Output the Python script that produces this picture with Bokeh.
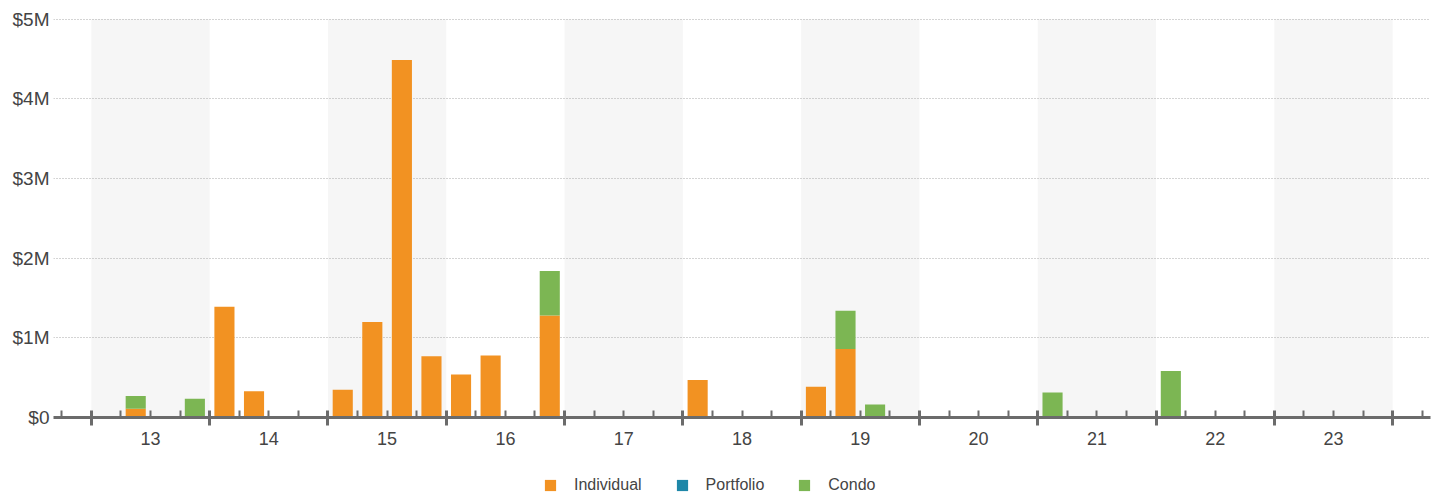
from bokeh.plotting import figure
from bokeh.layouts import column
from bokeh.models import (FixedTicker, LinearAxis, Legend, LegendItem, Range1d,
                          ColumnDataSource, CustomJSTickFormatter)
from bokeh.embed import file_html
from bokeh.resources import INLINE

# ---- data ----
years = [13, 14, 15, 16, 17, 18, 19, 20, 21, 22, 23]
year_labels = ["13", "14", "15", "16", "17", "18", "19", "20", "21", "22", "23"]

bar_year = [13, 13, 14, 14, 15, 15, 15, 15, 16, 16, 16, 18, 19, 19, 19, 21, 22]
bar_quarter = [2, 4, 1, 2, 1, 2, 3, 4, 1, 2, 4, 1, 1, 2, 3, 1, 1]
individual = [0.11, 0.0, 1.39, 0.33, 0.35, 1.20, 4.49, 0.77, 0.54, 0.78, 1.28, 0.47, 0.385, 0.86, 0.0, 0.0, 0.0]
portfolio = [0.0] * 17
condo = [0.16, 0.234, 0.0, 0.0, 0.0, 0.0, 0.0, 0.0, 0.0, 0.0, 0.56, 0.0, 0.0, 0.48, 0.163, 0.314, 0.585]

series = ["Individual", "Portfolio", "Condo"]
colors = ["#F29222", "#1E87A8", "#7CB653"]

y_ticks = [0, 1000000, 2000000, 3000000, 4000000, 5000000]
y_tick_labels = ["$0", "$1M", "$2M", "$3M", "$4M", "$5M"]

# ---- derived ----
x = [y + (q - 0.5) / 4 for y, q in zip(bar_year, bar_quarter)]
src = ColumnDataSource(dict(
    x=x,
    Individual=[v * 1e6 for v in individual],
    Portfolio=[v * 1e6 for v in portfolio],
    Condo=[v * 1e6 for v in condo],
))

FONT = "Liberation Sans"
TEXT = "#444444"
AXIS = "#6b6b6b"

p = figure(width=1439, height=454,
           x_range=Range1d(years[0] - 0.32, years[-1] + 1.32),
           y_range=Range1d(0, 5.01e6),
           output_backend="svg", toolbar_location=None,
           x_axis_location=None,
           min_border_left=53, min_border_right=9,
           min_border_top=18, min_border_bottom=37)
p.outline_line_color = None
p.background_fill_color = "white"

# alternating year bands
odd = [y for i, y in enumerate(years) if i % 2 == 0]
bands = p.quad(left=odd, right=[y + 1 for y in odd], bottom=0, top=y_ticks[-1],
               fill_color="#f6f6f6", line_color=None)
bands.level = "image"

# grid
p.xgrid.visible = False
p.ygrid.ticker = FixedTicker(ticks=y_ticks[1:])
p.ygrid.grid_line_color = "#a8a8a8"
p.ygrid.grid_line_dash = "1 2"
p.ygrid.grid_line_width = 1

# bars
rs = p.vbar_stack(series, x="x", width=0.17, source=src,
                  fill_color=colors, line_color=None)

# y axis
p.yaxis.ticker = FixedTicker(ticks=y_ticks)
p.yaxis.major_label_overrides = {t: l for t, l in zip(y_ticks, y_tick_labels)}
p.yaxis.axis_line_color = None
p.yaxis.major_tick_line_color = None
p.yaxis.major_tick_out = 0
p.yaxis.major_tick_in = 0
p.yaxis.minor_tick_line_color = None
p.yaxis.major_label_text_font = FONT
p.yaxis.major_label_text_font_size = "19px"
p.yaxis.major_label_text_color = TEXT
p.yaxis.major_label_standoff = 4

# x axis: ticks at year boundaries, minor ticks at quarters
bounds = years + [years[-1] + 1]
minor = [b + k / 4 for b in [years[0] - 1] + bounds for k in (1, 2, 3)]
ax1 = LinearAxis(ticker=FixedTicker(ticks=bounds, minor_ticks=minor),
                 formatter=CustomJSTickFormatter(code="return '';"),
                 major_label_standoff=0,
                 axis_line_color=AXIS, axis_line_width=3,
                 major_tick_line_color=AXIS, major_tick_line_width=3,
                 major_tick_in=7, major_tick_out=8,
                 minor_tick_line_color=AXIS, minor_tick_line_width=2,
                 minor_tick_in=7, minor_tick_out=0)
p.add_layout(ax1, "below")

# x axis labels at year centers
centers = [y + 0.5 for y in years]
ax2 = LinearAxis(ticker=FixedTicker(ticks=centers),
                 formatter=CustomJSTickFormatter(args=dict(labels=year_labels, first=years[0]),
                                                 code="return labels[Math.floor(tick) - first];"),
                 axis_line_color=None, major_tick_line_color=None,
                 minor_tick_line_color=None,
                 major_label_text_font=FONT, major_label_text_font_size="18px",
                 major_label_text_color=TEXT, major_label_standoff=0)
p.add_layout(ax2, "below")

# legend strip below the chart
lf = figure(width=1439, height=40, x_range=Range1d(0, 1), y_range=Range1d(0, 1),
            output_backend="svg", toolbar_location=None,
            x_axis_location=None, y_axis_location=None,
            min_border=0, min_border_left=0, min_border_right=0,
            min_border_top=0, min_border_bottom=0)
lf.grid.visible = False
lf.outline_line_color = None
# legend-only renderers: one zero-height stack, invisible in the strip
swatch = ColumnDataSource(dict(x=[0.5], Individual=[0], Portfolio=[0], Condo=[0]))
lrs = lf.vbar_stack(series, x="x", width=0.01, source=swatch,
                    fill_color=colors, line_color=None)
legend = Legend(items=[LegendItem(label=s, renderers=[r]) for s, r in zip(series, lrs)],
                orientation="horizontal", location=(490, 0),
                glyph_width=14, glyph_height=14, label_standoff=17, spacing=33,
                label_text_font=FONT, label_text_font_size="16px",
                label_text_color=TEXT, border_line_color=None,
                background_fill_alpha=0, padding=0, margin=0)
lf.add_layout(legend, "center")

open("out.html", "w").write(file_html(column(p, lf, spacing=0), INLINE))
